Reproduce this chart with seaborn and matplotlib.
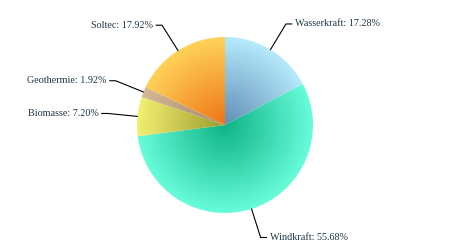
import numpy as np
import matplotlib
matplotlib.use("Agg")
import matplotlib.pyplot as plt
import seaborn as sns
from matplotlib.colors import to_rgb

sns.set_theme(style="white")
plt.rcParams['font.family'] = ['Liberation Serif', 'DejaVu Serif']

# ---- data ----
categories = ["Wasserkraft", "Windkraft", "Biomasse", "Geothermie", "Soltec"]
shares = [17.28, 55.68, 7.20, 1.92, 17.92]
center_colors = ["#5f8db5", "#0fb386", "#9c9a2c", "#a48a6c", "#ee7414"]
edge_colors = ["#b6eafc", "#68fcda", "#f2f072", "#d6b896", "#ffd258"]

W, H = 450, 250
R_PX = 88.0
fig = plt.figure(figsize=(W / 100, H / 100), dpi=100)
ax = fig.add_axes([0, 0, 1, 1])

wedges, _ = ax.pie(shares, startangle=90, counterclock=False, radius=1.0,
                   wedgeprops=dict(linewidth=0, facecolor='none'))
ax.set_aspect('equal')
ax.axis('off')

# radial gradient fill clipped to each wedge
n = 400
xs = np.linspace(-1, 1, n)
X, Y = np.meshgrid(xs, xs)
Rr = np.clip(np.sqrt(X ** 2 + Y ** 2), 0, 1)
for w, c0, c1 in zip(wedges, center_colors, edge_colors):
    a = np.array(to_rgb(c0))
    b = np.array(to_rgb(c1))
    img = a[None, None, :] * (1 - Rr[..., None]) + b[None, None, :] * Rr[..., None]
    im = ax.imshow(img, extent=(-1, 1, -1, 1), origin='lower', zorder=1,
                   interpolation='bilinear')
    im.set_clip_path(w)
ax.set_xlim(-W / 2 / R_PX, W / 2 / R_PX)
ax.set_ylim(-H / 2 / R_PX, H / 2 / R_PX)

# labels with connectors
px = 1.0 / R_PX
dist = 30 * px
for w, cat, s in zip(wedges, categories, shares):
    ang = np.deg2rad((w.theta1 + w.theta2) / 2)
    ca, sa = np.cos(ang), np.sin(ang)
    side = 1 if ca >= 0 else -1
    A = (ca, sa)
    B = ((1 + dist) * ca, (1 + dist) * sa)
    C = (B[0] + side * 6 * px, B[1])
    ax.plot([A[0], B[0], C[0]], [A[1], B[1], C[1]], color='black', lw=0.8,
            zorder=3, solid_joinstyle='miter')
    ax.text(C[0] + side * 3 * px, C[1], f"{cat}: {s:.2f}%",
            ha='left' if side > 0 else 'right', va='center',
            fontsize=7.3, color='#1e3644', zorder=4)

fig.savefig("out.png", dpi=100, facecolor='white')
